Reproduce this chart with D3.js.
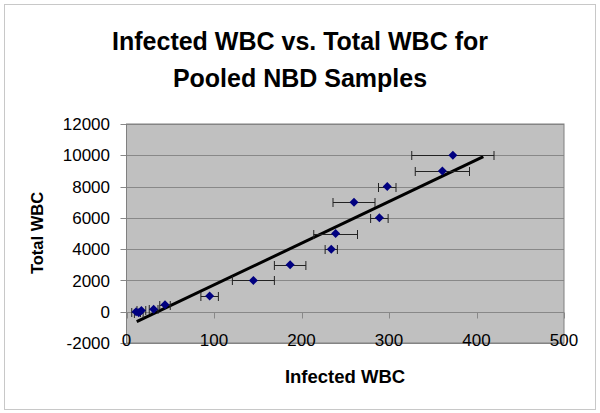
<!DOCTYPE html>
<html><head><meta charset="utf-8">
<script src="https://cdn.jsdelivr.net/npm/d3@7"></script>
<style>
html,body{margin:0;padding:0;background:#fff;}
text{font-family:"Liberation Sans",Arial,sans-serif;}
</style></head>
<body><svg id="c" width="600" height="413"></svg>
<script>
const titleLines = ["Infected WBC vs. Total WBC for", "Pooled NBD Samples"];
const xTitle = "Infected WBC";
const yTitle = "Total WBC";
const infected = [11, 14, 17, 31, 44, 95, 145, 187, 234, 239, 289, 260, 298, 361, 373];
const totalWBC = [0, -60, 80, 150, 450, 1000, 2000, 3000, 4000, 5000, 6000, 7000, 8000, 9000, 10000];
const errX     = [5, 5, 5, 5, 6, 10, 24, 18, 7, 25, 10, 24, 10, 31, 47];
const trendX = [11.7, 407.8];
const trendY = [-639, 9910];
const xTicks = [0, 100, 200, 300, 400, 500];
const yTicks = [-2000, 0, 2000, 4000, 6000, 8000, 10000, 12000];

const svg = d3.select("#c");
const L = 126.5, R = 564, T = 124, B = 343;
const x = d3.scaleLinear().domain([0, 500]).range([L, R]);
const y = d3.scaleLinear().domain([-2000, 12000]).range([B, T]);

svg.append("rect").attr("x", 4.5).attr("y", 4.5).attr("width", 591).attr("height", 405)
  .attr("fill", "#fff").attr("stroke", "#c8c8c8");

svg.append("rect").attr("x", L).attr("y", T).attr("width", R - L).attr("height", B - T)
  .attr("fill", "#c0c0c0");

// gridlines + y ticks
svg.append("g").selectAll("line").data(yTicks).join("line")
  .attr("x1", L - 6).attr("x2", R)
  .attr("y1", d => Math.round(y(d)) + 0.5).attr("y2", d => Math.round(y(d)) + 0.5)
  .attr("stroke", "#888").attr("stroke-width", 1);

// plot border
svg.append("rect").attr("x", L).attr("y", T).attr("width", R - L).attr("height", B - T)
  .attr("fill", "none").attr("stroke", "#808080");

// x axis at y = 0
const y0 = Math.round(y(0)) + 0.5;
svg.append("g").selectAll("line").data(xTicks).join("line")
  .attr("x1", d => Math.round(x(d)) + 0.5).attr("x2", d => Math.round(x(d)) + 0.5)
  .attr("y1", y0).attr("y2", y0 + 6).attr("stroke", "#888");

// y tick labels
svg.append("g").selectAll("text").data(yTicks).join("text")
  .attr("x", 110).attr("y", d => y(d)).attr("dy", "0.36em")
  .attr("text-anchor", "end").attr("font-size", 17).attr("fill", "#000")
  .text(d => d);

// x tick labels (low position)
svg.append("g").selectAll("text").data(xTicks).join("text")
  .attr("x", d => x(d)).attr("y", 346)
  .attr("text-anchor", "middle").attr("font-size", 17).attr("fill", "#000")
  .text(d => d);

// trendline
svg.append("line")
  .attr("x1", x(trendX[0])).attr("y1", y(trendY[0]))
  .attr("x2", x(trendX[1])).attr("y2", y(trendY[1]))
  .attr("stroke", "#000").attr("stroke-width", 3);

// error bars
const data = infected.map((v, i) => ({x: v, y: totalWBC[i], e: errX[i]}));
const eb = svg.append("g").attr("stroke", "#222").attr("stroke-width", 1);
data.forEach(d => {
  const yy = Math.round(y(d.y)) + 0.5;
  eb.append("line").attr("x1", x(d.x - d.e)).attr("x2", x(d.x + d.e)).attr("y1", yy).attr("y2", yy);
  [d.x - d.e, d.x + d.e].forEach(v => {
    eb.append("line").attr("x1", x(v)).attr("x2", x(v)).attr("y1", yy - 4.5).attr("y2", yy + 4.5);
  });
});

// diamonds
const r = 4.5;
svg.append("g").selectAll("path").data(data).join("path")
  .attr("d", d => {
    const cx = x(d.x), cy = y(d.y);
    return `M${cx},${cy - r}L${cx + r},${cy}L${cx},${cy + r}L${cx - r},${cy}Z`;
  })
  .attr("fill", "#000080");

// titles
svg.append("g").selectAll("text").data(titleLines).join("text")
  .attr("x", 300).attr("y", (d, i) => 50 + i * 36.5)
  .attr("text-anchor", "middle").attr("font-size", 25).attr("font-weight", "bold")
  .text(d => d);

svg.append("text").attr("x", 345).attr("y", 382.5).attr("text-anchor", "middle")
  .attr("font-size", 18.5).attr("font-weight", "bold").text(xTitle);

svg.append("text").attr("transform", "translate(43,233) rotate(-90)").attr("text-anchor", "middle")
  .attr("font-size", 16.5).attr("font-weight", "bold").text(yTitle);
</script></body></html>
